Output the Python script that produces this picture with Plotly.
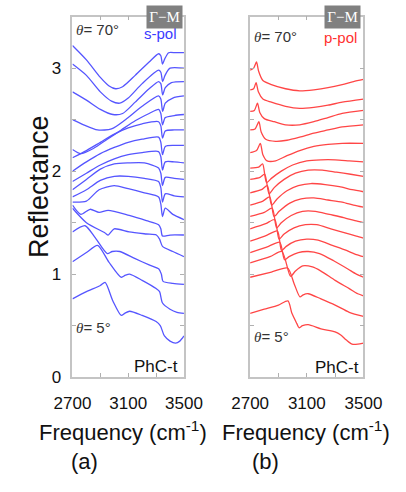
import plotly.graph_objects as go

W, H = 406, 492

# ---------------- s-pol spectra (top curve = 70 deg, bottom = 5 deg) ----------------
s01 = [(2700,3.22),(2800,3.08),(2900,2.91),(2960,2.83),(3010,2.80),(3060,2.82),(3150,2.93),(3250,3.06),(3318,3.14),(3334,3.12),(3346,3.04),(3362,3.09),(3390,3.15),(3440,3.15),(3500,3.15)]
s02 = [(2700,3.04),(2800,2.93),(2900,2.77),(2980,2.68),(3040,2.66),(3100,2.71),(3200,2.85),(3318,2.98),(3334,2.96),(3347,2.87),(3364,2.93),(3400,3.00),(3500,3.00)]
s03 = [(2700,2.77),(2800,2.69),(2900,2.60),(2990,2.55),(3060,2.56),(3150,2.67),(3250,2.80),(3318,2.87),(3334,2.85),(3347,2.74),(3366,2.81),(3410,2.86),(3500,2.87)]
s04 = [(2700,2.50),(2780,2.45),(2880,2.40),(2980,2.41),(3080,2.50),(3200,2.63),(3318,2.73),(3334,2.70),(3347,2.58),(3366,2.66),(3420,2.71),(3500,2.73)]
s05 = [(2700,2.21),(2760,2.17),(2850,2.22),(2950,2.31),(3050,2.40),(3150,2.49),(3250,2.56),(3318,2.60),(3334,2.56),(3346,2.45),(3366,2.52),(3430,2.54),(3500,2.55)]
s06 = [(2700,2.13),(2800,2.20),(2900,2.28),(3000,2.36),(3100,2.42),(3200,2.46),(3318,2.48),(3334,2.44),(3346,2.32),(3366,2.39),(3430,2.40),(3500,2.40)]
s07 = [(2700,2.00),(2800,2.09),(2900,2.17),(3000,2.23),(3100,2.28),(3200,2.31),(3318,2.33),(3334,2.28),(3346,2.16),(3366,2.24),(3430,2.25),(3500,2.25)]
s08 = [(2700,1.90),(2800,1.98),(2900,2.06),(3000,2.12),(3100,2.16),(3200,2.18),(3318,2.19),(3334,2.14),(3346,2.01),(3366,2.09),(3430,2.09),(3500,2.08)]
s09 = [(2700,1.82),(2800,1.92),(2900,2.02),(3000,2.07),(3100,2.08),(3216,2.08),(3318,2.03),(3334,1.98),(3346,1.86),(3366,1.94),(3430,1.93),(3500,1.92)]
s10 = [(2700,1.75),(2800,1.82),(2900,1.91),(3000,1.95),(3100,1.95),(3216,1.93),(3318,1.90),(3334,1.84),(3346,1.70),(3366,1.78),(3430,1.76),(3500,1.75)]
s11 = [(2700,1.70),(2800,1.71),(2891,1.82),(2999,1.86),(3100,1.83),(3216,1.79),(3318,1.75),(3334,1.68),(3346,1.56),(3366,1.64),(3420,1.58),(3500,1.53)]
s12 = [(2700,1.67),(2760,1.58),(2826,1.63),(2891,1.60),(2956,1.62),(3107,1.57),(3230,1.52),(3318,1.48),(3334,1.44),(3346,1.37),(3400,1.38),(3500,1.38)]
s13 = [(2700,1.64),(2800,1.50),(2934,1.40),(2956,1.38),(2999,1.44),(3107,1.41),(3230,1.39),(3302,1.38),(3325,1.34),(3346,1.27),(3420,1.22),(3500,1.17)]
s14 = [(2700,1.41),(2790,1.47),(2860,1.36),(2950,1.20),(2985,1.22),(3040,1.22),(3150,1.15),(3250,1.09),(3320,1.05),(3338,1.00),(3350,0.93),(3420,0.91),(3500,0.90)]
s15 = [(2700,1.12),(2800,1.21),(2880,1.28),(2960,1.12),(3050,0.97),(3080,0.99),(3110,1.00),(3200,0.94),(3300,0.86),(3325,0.83),(3346,0.72),(3400,0.66),(3450,0.63),(3500,0.62)]
s16 = [(2700,0.76),(2800,0.83),(2900,0.89),(2934,0.92),(2990,0.74),(3050,0.60),(3075,0.62),(3110,0.64),(3200,0.60),(3300,0.54),(3330,0.50),(3360,0.40),(3400,0.35),(3440,0.33),(3470,0.35),(3500,0.40)]

# ---------------- p-pol spectra ----------------
p01 = [(2700,2.98),(2725,3.00),(2745,3.06),(2760,2.97),(2790,2.88),(2850,2.84),(2950,2.80),(3050,2.78),(3150,2.79),(3250,2.81),(3350,2.84),(3430,2.87),(3500,2.89)]
p02 = [(2700,2.79),(2725,2.80),(2742,2.86),(2758,2.77),(2790,2.70),(2850,2.67),(2950,2.63),(3050,2.61),(3150,2.62),(3250,2.64),(3350,2.67),(3500,2.70)]
p03 = [(2700,2.58),(2730,2.59),(2752,2.66),(2768,2.57),(2800,2.51),(2870,2.48),(2950,2.45),(3050,2.45),(3150,2.48),(3250,2.52),(3350,2.56),(3500,2.59)]
p04 = [(2700,2.40),(2735,2.41),(2762,2.48),(2778,2.38),(2810,2.31),(2880,2.29),(2960,2.30),(3050,2.33),(3150,2.37),(3250,2.40),(3350,2.43),(3500,2.45)]
p05 = [(2700,2.18),(2745,2.20),(2772,2.27),(2790,2.16),(2820,2.10),(2880,2.10),(2960,2.15),(3050,2.20),(3150,2.24),(3250,2.26),(3350,2.27),(3500,2.27)]
p06 = [(2700,2.03),(2760,2.04),(2788,2.07),(2816,1.89),(2850,1.93),(2920,2.00),(3000,2.06),(3100,2.10),(3200,2.11),(3300,2.11),(3400,2.10),(3500,2.09)]
p07 = [(2700,1.92),(2770,1.94),(2803,1.97),(2834,1.78),(2870,1.84),(2940,1.92),(3020,1.98),(3110,2.01),(3210,2.01),(3310,1.99),(3410,1.97),(3500,1.95)]
p08 = [(2700,1.79),(2780,1.82),(2821,1.86),(2852,1.67),(2890,1.73),(2960,1.81),(3040,1.86),(3130,1.88),(3230,1.87),(3330,1.85),(3420,1.82),(3500,1.80)]
p09 = [(2700,1.67),(2790,1.71),(2838,1.75),(2869,1.56),(2905,1.61),(2980,1.69),(3060,1.73),(3150,1.74),(3250,1.72),(3350,1.70),(3430,1.67),(3500,1.65)]
p10 = [(2700,1.56),(2800,1.60),(2856,1.64),(2887,1.45),(2920,1.50),(2990,1.57),(3070,1.61),(3160,1.61),(3260,1.58),(3360,1.55),(3440,1.52),(3500,1.50)]
p11 = [(2700,1.44),(2810,1.49),(2874,1.53),(2904,1.34),(2940,1.39),(3010,1.45),(3090,1.48),(3170,1.48),(3270,1.44),(3370,1.40),(3450,1.37),(3500,1.35)]
p12 = [(2700,1.32),(2820,1.38),(2892,1.42),(2922,1.23),(2955,1.27),(3020,1.32),(3100,1.34),(3180,1.33),(3280,1.28),(3380,1.23),(3450,1.19),(3500,1.17)]
p13 = [(2700,1.21),(2830,1.27),(2909,1.31),(2943,1.14),(2975,1.17),(3040,1.21),(3110,1.22),(3190,1.20),(3290,1.13),(3390,1.05),(3450,1.00),(3500,0.97)]
p14 = [(2700,1.11),(2840,1.17),(2924,1.22),(2985,0.98),(3020,1.03),(3071,1.08),(3140,1.07),(3200,1.03),(3300,0.94),(3400,0.86),(3460,0.81),(3500,0.79)]
p15 = [(2700,0.97),(2850,1.02),(2964,1.06),(3010,0.91),(3052,0.78),(3075,0.80),(3110,0.81),(3200,0.76),(3300,0.70),(3400,0.63),(3500,0.59)]
p16 = [(2700,0.62),(2800,0.66),(2900,0.70),(2967,0.74),(2995,0.62),(3030,0.52),(3045,0.48),(3070,0.50),(3110,0.51),(3200,0.47),(3300,0.44),(3340,0.41),(3380,0.36),(3420,0.32),(3460,0.32),(3500,0.33)]

S_CURVES = [s01, s02, s03, s04, s05, s06, s07, s08, s09, s10, s11, s12, s13, s14, s15, s16]
P_CURVES = [p01, p02, p03, p04, p05, p06, p07, p08, p09, p10, p11, p12, p13, p14, p15, p16]

X_TICKS = [2700, 3100, 3500]
X_MINOR = [2900, 3300]
Y_TICKS = [0, 1, 2, 3]
Y_MINOR = [0.5, 1.5, 2.5]

BLUE = "rgb(85,85,255)"
RED = "rgb(255,70,70)"

fig = go.Figure()
for c in S_CURVES:
    fig.add_trace(go.Scatter(x=[p[0] for p in c], y=[p[1] for p in c], mode="lines",
                             line=dict(color=BLUE, width=1.3, shape="spline", smoothing=0.7),
                             xaxis="x", yaxis="y", showlegend=False, hoverinfo="skip"))
for c in P_CURVES:
    fig.add_trace(go.Scatter(x=[p[0] for p in c], y=[p[1] for p in c], mode="lines",
                             line=dict(color=RED, width=1.3, shape="spline", smoothing=0.7),
                             xaxis="x2", yaxis="y2", showlegend=False, hoverinfo="skip"))

def px(x):
    return x / W

def py(y):
    return 1 - y / H

TOP, BOT = 17, 385
axis_common = dict(showgrid=False, zeroline=False, showline=True, linecolor="#c4c4c4", linewidth=1.5,
                   mirror="ticks", ticks="inside", ticklen=4, tickcolor="#b0b0b0", tickwidth=1,
                   tickfont=dict(family="Liberation Sans, Arial", size=17, color="#111"))
minor_x = dict(tickvals=X_MINOR, ticks="inside", ticklen=4, tickcolor="#b0b0b0", showgrid=False)
minor_y = dict(tickvals=Y_MINOR, ticks="inside", ticklen=4, tickcolor="#b0b0b0", showgrid=False)

fig.update_layout(
    width=W, height=H, autosize=False,
    margin=dict(l=0, r=0, t=0, b=0),
    paper_bgcolor="white", plot_bgcolor="white",
    xaxis=dict(domain=[px(59), px(182)], range=[2700, 3500], tickvals=X_TICKS, minor=minor_x,
               anchor="y", ticklabelstandoff=10, **axis_common),
    yaxis=dict(domain=[py(BOT), py(TOP)], range=[0, 3.5], tickvals=Y_TICKS, minor=minor_y,
               anchor="x", ticklabelstandoff=6, **axis_common),
    xaxis2=dict(domain=[px(255), px(380)], range=[2700, 3500], tickvals=X_TICKS, minor=minor_x,
                anchor="y2", ticklabelstandoff=10, **axis_common),
    yaxis2=dict(domain=[py(BOT), py(TOP)], range=[0, 3.5], tickvals=Y_TICKS, minor=minor_y,
                showticklabels=False, anchor="x2", **axis_common),
)

ann = []
def text(x, y, s, size, color="#111", family="Liberation Sans, Arial", xanchor="center", **kw):
    ann.append(dict(x=px(x), y=py(y), xref="paper", yref="paper", text=s, showarrow=False,
                    font=dict(family=family, size=size, color=color), xanchor=xanchor,
                    yanchor="middle", **kw))

THETA = "<span style='font-family:Liberation Serif'><i>θ</i></span>"

# axis titles
text(22, 190, "Reflectance", 27, textangle=-90)
text(115, 440, "Frequency (cm<sup>-1</sup>)", 22)
text(317, 440, "Frequency (cm<sup>-1</sup>)", 22)
text(72, 471, "(a)", 22)
text(272, 471, "(b)", 22)

# left panel labels
text(61, 30, THETA + "= 70°", 15, color="#333", xanchor="left")
text(61, 334, THETA + "= 5°", 15, color="#333", xanchor="left")
text(177, 34, "s-pol", 15, color="#3a3aff", xanchor="right")
text(178, 374, "PhC-t", 17, color="#111", xanchor="right")
# right panel labels
text(257, 37, THETA + "= 70°", 15, color="#333", xanchor="left")
text(257, 343, THETA + "= 5°", 15, color="#333", xanchor="left")
text(375, 38, "p-pol", 15, color="#ff3030", xanchor="right")
text(377, 375, "PhC-t", 17, color="#111", xanchor="right")

# Gamma-M boxes
for cx in (160.5, 356.5):
    ann.append(dict(x=px(cx), y=py(17), xref="paper", yref="paper", text="Γ−M", showarrow=False,
                    font=dict(family="Liberation Serif, Times New Roman", size=15, color="white"),
                    bgcolor="#808080", width=35, height=22, xanchor="center", yanchor="middle", borderpad=0))

fig.update_layout(annotations=ann)
fig.write_html("out.html")
